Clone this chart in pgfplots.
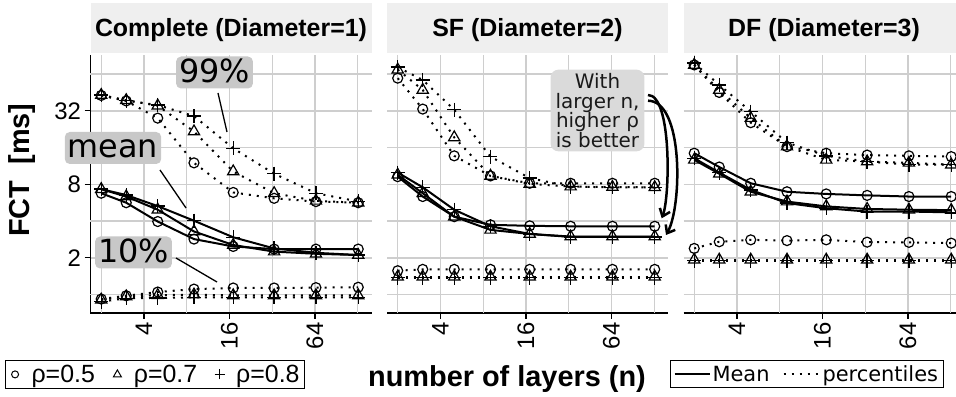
\documentclass[border=0pt]{standalone}
\usepackage{fontspec}
\setmainfont{Liberation Sans}
\newfontfamily\dejavu{DejaVu Sans}
\usepackage{pgfplots}
\pgfplotsset{compat=1.18}
\usepackage{pgfplotstable}
\usetikzlibrary{arrows.meta}

\definecolor{gridgray}{RGB}{206,206,206}
\definecolor{stripgray}{RGB}{239,239,239}
\definecolor{labgray}{RGB}{200,200,200}
\definecolor{notegray}{RGB}{218,218,218}

% Complete (Diameter=1)
\pgfplotstableread{
n m5 m7 m8 h5 h7 h8 l5 l7 l8
2 6.77 7.31 7.31 42.8 43.1 43.1 0.920 0.908 0.877
3 5.66 6.36 6.54 38.6 39.1 38.9 0.979 0.966 0.933
5 3.97 4.96 5.31 27.9 35.3 35.7 1.050 0.990 0.940
9 2.85 3.29 4.03 12.0 21.7 29.0 1.110 1.000 0.950
17 2.48 2.55 2.95 6.87 10.2 15.8 1.133 0.985 0.950
33 2.36 2.25 2.39 6.15 6.77 9.78 1.133 0.985 0.950
65 2.36 2.16 2.20 5.78 5.86 6.77 1.141 0.985 0.950
129 2.36 2.11 2.11 5.66 5.66 5.80 1.149 0.985 0.950
}\dataA
% SF (Diameter=2)
\pgfplotstableread{
n m5 m7 m8 h5 h7 h8 l5 l7 l8
2 9.25 9.58 9.99 59.3 69.6 73.0 1.57 1.40 1.38
3 6.36 6.77 7.57 33.1 47.5 57.3 1.61 1.40 1.38
5 4.35 4.35 4.96 13.7 19.4 32.7 1.61 1.40 1.38
9 3.73 3.39 3.63 9.38 9.38 13.5 1.61 1.40 1.38
17 3.66 3.14 3.14 8.17 8.06 9.00 1.61 1.40 1.38
33 3.63 2.99 2.97 8.17 7.67 7.67 1.61 1.40 1.38
65 3.63 2.99 2.97 8.17 7.60 7.57 1.61 1.40 1.38
129 3.63 2.99 2.97 8.17 7.57 7.57 1.61 1.40 1.38
}\dataB
% DF (Diameter=3)
\pgfplotstableread{
n m5 m7 m8 h5 h7 h8 l5 l7 l8
2 14.4 12.7 13.1 76.1 76.1 78.8 2.39 1.93 1.90
3 11.1 9.78 9.99 45.3 47.5 52.3 2.71 1.93 1.90
5 8.17 6.96 7.21 25.6 27.9 31.6 2.81 1.93 1.90
9 6.96 5.78 5.62 16.3 16.3 17.6 2.77 1.93 1.90
17 6.68 5.28 5.10 14.4 12.7 13.7 2.81 1.93 1.90
33 6.50 5.03 4.79 13.9 12.3 12.3 2.69 1.93 1.90
65 6.36 4.96 4.79 13.7 12.0 11.6 2.68 1.93 1.90
129 6.36 4.92 4.72 13.5 11.6 11.6 2.64 1.93 1.90
}\dataC

\newcommand{\panelplots}[1]{%
  \addplot[forget plot, black, line width=2bp, dash pattern=on 2bp off 6bp, mark=o, mark size=5bp, mark options={solid, line width=1.2bp}] table[x=n,y=h5]{#1};
  \addplot[forget plot, black, line width=2bp, dash pattern=on 2bp off 6bp, mark=triangle, mark size=6.5bp, mark options={solid, line width=1.2bp}] table[x=n,y=h7]{#1};
  \addplot[forget plot, black, line width=2bp, dash pattern=on 2bp off 6bp, mark=+, mark size=7bp, mark options={solid, line width=1.4bp}] table[x=n,y=h8]{#1};
  \addplot[forget plot, black, line width=2bp, dash pattern=on 2bp off 6bp, mark=o, mark size=5bp, mark options={solid, line width=1.2bp}] table[x=n,y=l5]{#1};
  \addplot[forget plot, black, line width=2bp, dash pattern=on 2bp off 6bp, mark=triangle, mark size=6.5bp, mark options={solid, line width=1.2bp}] table[x=n,y=l7]{#1};
  \addplot[forget plot, black, line width=2bp, dash pattern=on 2bp off 6bp, mark=+, mark size=7bp, mark options={solid, line width=1.4bp}] table[x=n,y=l8]{#1};
  \addplot[forget plot, black, line width=2bp, solid, mark=o, mark size=5bp, mark options={solid, line width=1.2bp}] table[x=n,y=m5]{#1};
  \addplot[forget plot, black, line width=2bp, solid, mark=triangle, mark size=6.5bp, mark options={solid, line width=1.2bp}] table[x=n,y=m7]{#1};
  \addplot[forget plot, black, line width=2bp, solid, mark=+, mark size=7bp, mark options={solid, line width=1.4bp}] table[x=n,y=m8]{#1};
}

\begin{document}
\begin{tikzpicture}[x=1bp,y=1bp]
\useasboundingbox (0bp,0bp) rectangle (956bp,397bp);

% facet strips
\fill[stripgray] (90.5bp,344bp) rectangle (371.5bp,394bp);
\fill[stripgray] (387bp,344bp) rectangle (668bp,394bp);
\fill[stripgray] (683.5bp,344bp) rectangle (964.5bp,394bp);
\node[font=\bfseries\fontsize{25}{25}\selectfont] at (231bp,367bp) {Complete (Diameter=1)};
\node[font=\bfseries\fontsize{25}{25}\selectfont] at (527.5bp,367bp) {SF (Diameter=2)};
\node[font=\bfseries\fontsize{25}{25}\selectfont] at (824bp,367bp) {DF (Diameter=3)};

% Panel 1
\begin{axis}[at={(90.5bp,84bp)}, anchor=south west,
    scale only axis, width=281bp, height=258bp,
    xmode=log, ymode=log, log basis x=2, log basis y=2,
    xmin=1.681, xmax=160, ymin=0.7071, ymax=91.8,
    xtick={4,16,64}, xticklabels={4,16,64},
    extra x ticks={2,8,32,128}, extra x tick labels={},
    extra x tick style={grid=major, major tick length=0bp},
    ytick={2,8,32}, yticklabels={2,8,32},
    extra y ticks={1,4,16,64}, extra y tick labels={},
    extra y tick style={grid=major, major tick length=0bp},
    grid=major,
    major grid style={line width=1.3bp, draw=gridgray},
    axis x line*=bottom, axis y line*=left,
    axis line style={line width=1.4bp, black, -},
    tick align=outside,
    major tick length=6bp,
    tick style={line width=1.2bp, black},
    xticklabel style={rotate=90, anchor=east, font=\fontsize{24}{24}\selectfont},
    yticklabel style={font=\fontsize{24}{24}\selectfont},
  ylabel={FCT~~[ms]},
  ylabel style={at={(axis description cs:-0.242,0.554)}, anchor=center, font=\bfseries\fontsize{29}{29}\selectfont},
  legend columns=3, legend cell align=left,
  legend style={at={(axis description cs:-0.304,-0.182)}, anchor=north west, draw=black, line width=1bp,
    inner xsep=3bp, inner ysep=2.5bp, font=\fontsize{25}{27}\selectfont,
    /tikz/every even column/.append style={column sep=14bp}},
]
\panelplots{\dataA}
\addlegendimage{legend image code/.code={\path (0bp,0bp) (20bp,0bp); \draw[black, line width=1bp] (6bp,0bp) circle (3.5bp);}}
\addlegendentry{ρ=0.5}
\addlegendimage{legend image code/.code={\path (0bp,0bp) (20bp,0bp); \draw[black, line width=1bp] (2bp,-2.5bp) -- (10bp,-2.5bp) -- (6bp,4.5bp) -- cycle;}}
\addlegendentry{ρ=0.7}
\addlegendimage{legend image code/.code={\path (0bp,0bp) (20bp,0bp); \draw[black, line width=1.2bp] (1bp,0bp) -- (11bp,0bp) (6bp,-5bp) -- (6bp,5bp);}}
\addlegendentry{ρ=0.8}
\end{axis}

% Panel 2
\begin{axis}[at={(387bp,84bp)}, anchor=south west,
    scale only axis, width=281bp, height=258bp,
    xmode=log, ymode=log, log basis x=2, log basis y=2,
    xmin=1.681, xmax=160, ymin=0.7071, ymax=91.8,
    xtick={4,16,64}, xticklabels={4,16,64},
    extra x ticks={2,8,32,128}, extra x tick labels={},
    extra x tick style={grid=major, major tick length=0bp},
    ytick={2,8,32}, yticklabels={,,},
    extra y ticks={1,4,16,64}, extra y tick labels={},
    extra y tick style={grid=major, major tick length=0bp},
    grid=major,
    major grid style={line width=1.3bp, draw=gridgray},
    axis x line*=bottom, axis y line*=left,
    axis line style={line width=1.4bp, black, -},
    y axis line style={draw=none},
    tick align=outside,
    major tick length=6bp,
    tick style={line width=1.2bp, black},
    ytick style={draw=none},
    xticklabel style={rotate=90, anchor=east, font=\fontsize{24}{24}\selectfont},
]
\panelplots{\dataB}
\end{axis}

% Panel 3
\begin{axis}[at={(683.5bp,84bp)}, anchor=south west,
    scale only axis, width=281bp, height=258bp,
    xmode=log, ymode=log, log basis x=2, log basis y=2,
    xmin=1.681, xmax=160, ymin=0.7071, ymax=91.8,
    xtick={4,16,64}, xticklabels={4,16,64},
    extra x ticks={2,8,32,128}, extra x tick labels={},
    extra x tick style={grid=major, major tick length=0bp},
    ytick={2,8,32}, yticklabels={,,},
    extra y ticks={1,4,16,64}, extra y tick labels={},
    extra y tick style={grid=major, major tick length=0bp},
    grid=major,
    major grid style={line width=1.3bp, draw=gridgray},
    axis x line*=bottom, axis y line*=left,
    axis line style={line width=1.4bp, black, -},
    y axis line style={draw=none},
    tick align=outside,
    major tick length=6bp,
    tick style={line width=1.2bp, black},
    ytick style={draw=none},
    xticklabel style={rotate=90, anchor=east, font=\fontsize{24}{24}\selectfont},
  legend columns=2, legend cell align=left,
  legend style={at={(axis description cs:-0.048,-0.182)}, anchor=north west, draw=black, line width=1bp,
    inner xsep=3bp, inner ysep=3bp, font=\dejavu\fontsize{21}{25}\selectfont,
    /tikz/every even column/.append style={column sep=11bp}},
]
\panelplots{\dataC}
\addlegendimage{legend image code/.code={\draw[black, line width=2bp] (7bp,0bp) -- (42bp,0bp);}}
\addlegendentry{Mean}
\addlegendimage{legend image code/.code={\draw[black, line width=2bp, dash pattern=on 2bp off 6bp] (0bp,0bp) -- (36bp,0bp);}}
\addlegendentry{percentiles}
\end{axis}

% x axis title
\node[font=\bfseries\fontsize{29}{29}\selectfont] at (507bp,18bp) {number of layers (n)};

% annotations
\draw[line width=1.3bp] (218bp,304bp) -- (227bp,265bp);
\draw[line width=1.3bp] (160bp,227bp) -- (186bp,189bp);
\draw[line width=1.3bp] (176bp,139bp) -- (217bp,115bp);
\node[fill=labgray, rounded corners=5bp, inner xsep=3bp, inner ysep=2bp, text height=24bp, text depth=4bp,
  font=\dejavu\fontsize{32}{32}\selectfont] at (214.5bp,324.5bp) {99\%};
\node[fill=labgray, rounded corners=5bp, inner xsep=3bp, inner ysep=2bp, text height=24bp, text depth=4bp,
  font=\dejavu\fontsize{32}{32}\selectfont] at (113bp,249bp) {mean};
\node[fill=labgray, rounded corners=5bp, inner xsep=3bp, inner ysep=2bp, text height=24bp, text depth=4bp,
  font=\dejavu\fontsize{32}{32}\selectfont] at (133.5bp,144.5bp) {10\%};
\node[fill=notegray, rounded corners=8bp, inner xsep=5bp, inner ysep=4bp, align=center, text=black!90,
  font=\dejavu\fontsize{20}{19.5}\selectfont] at (597.5bp,286.5bp) {With\\larger n,\\higher ρ\\is better};
\draw[line width=2.5bp, -{Straight Barb[length=7bp,width=11bp]}] (648bp,302bp) .. controls (672bp,302bp) and (670bp,200bp) .. (661.7bp,178.7bp);
\draw[line width=2.5bp, -{Straight Barb[length=7bp,width=11bp]}] (648bp,296.3bp) .. controls (684bp,296bp) and (682bp,190bp) .. (666bp,162bp);
\end{tikzpicture}
\end{document}
